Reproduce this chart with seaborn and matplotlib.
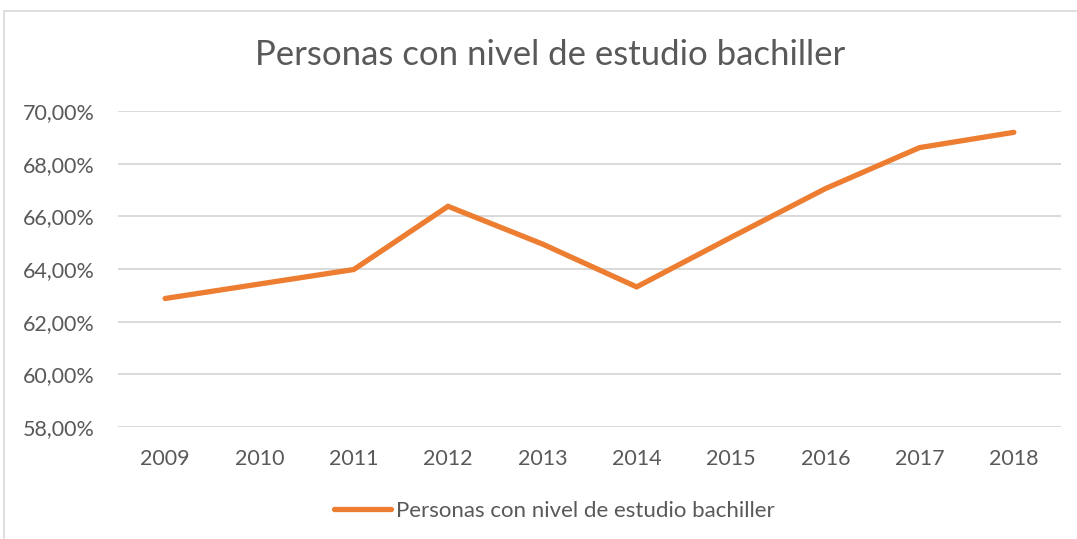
import pandas as pd
import seaborn as sns
import matplotlib.pyplot as plt
from matplotlib.patches import Rectangle

# data
years = [2009, 2010, 2011, 2012, 2013, 2014, 2015, 2016, 2017, 2018]
values = [62.88, 63.43, 63.98, 66.38, 64.95, 63.32, 65.20, 67.05, 68.61, 69.19]
y_ticks = [58, 60, 62, 64, 66, 68, 70]
series_name = 'Personas con nivel de estudio bachiller'

df = pd.DataFrame({'year': years, 'value': values, 'serie': series_name})

sns.set_style('white')
plt.rcParams['font.family'] = ['Lato', 'DejaVu Sans']
text_col = '#595959'

fig = plt.figure(figsize=(10.77, 5.39), dpi=100)
# outer chart frame
fig.patches.append(Rectangle((4 / 1077, -0.01), 1.02, 1 - 11 / 539 + 0.01,
                             transform=fig.transFigure, fill=False,
                             edgecolor='#d9d9d9', linewidth=1.2))

ax = fig.add_axes([118 / 1077, 1 - 427 / 539, (1061 - 118) / 1077, (427 - 111) / 539])
sns.lineplot(data=df, x='year', y='value', hue='serie', palette=['#ed7d31'],
             linewidth=3.8, ax=ax, legend=False, sort=False,
             solid_capstyle='round', solid_joinstyle='miter')

ax.set_xlim(2008.5, 2018.5)
ax.set_ylim(58, 70)
ax.set_xticks(years)
ax.set_xticklabels([str(y) for y in years])
ax.set_yticks(y_ticks)
ax.set_yticklabels([f'{v:.2f}%'.replace('.', ',') for v in y_ticks])
ax.tick_params(axis='both', length=0, labelsize=15.5, labelcolor=text_col)
ax.tick_params(axis='x', pad=16)
ax.tick_params(axis='y', pad=16.5)
ax.yaxis.grid(True, color='#d9d9d9', linewidth=1.4)
ax.set_axisbelow(True)
for s in ax.spines.values():
    s.set_visible(False)
ax.set_xlabel('')
ax.set_ylabel('')

fig.text(550 / 1077, 1 - 55 / 539, series_name, ha='center', va='center',
         fontsize=25, color=text_col)

handle = plt.Line2D([], [], color='#ed7d31', linewidth=3.8, solid_capstyle='round')
fig.legend([handle], [series_name], loc='center', bbox_to_anchor=(554 / 1077, 1 - 511 / 539),
           frameon=False, fontsize=16, labelcolor=text_col, handlelength=2.6,
           handletextpad=0.2)

fig.savefig('out.png', dpi=100)
